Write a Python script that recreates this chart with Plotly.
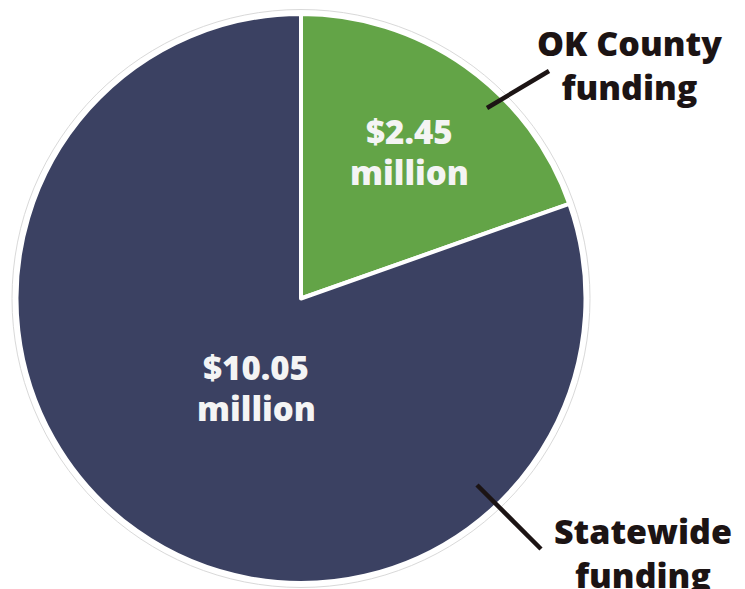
import plotly.graph_objects as go

# Funding split (millions of dollars)
labels = ["OK County funding", "Statewide funding"]
values = [2.45, 10.05]
colors = ["#63a447", "#3b4162"]

W, H = 745, 589
CX, CY, R = 301, 298.5, 284.5  # pie centre / radius in pixels (from top-left)
FONT = "Open Sans"


def px(x):
    return x / W


def py(y):
    return 1 - y / H


fig = go.Figure()
fig.add_trace(go.Pie(
    labels=labels,
    values=values,
    sort=False,
    direction="clockwise",
    rotation=0,
    marker=dict(colors=colors, line=dict(color="white", width=4)),
    textinfo="none",
    hoverinfo="label+value",
    showlegend=False,
    domain=dict(x=[px(CX - R), px(CX + R)], y=[py(CY + R), py(CY - R)]),
))

shapes = []
# faint outer ring around the pie
RR = 289
shapes.append(dict(type="circle", xref="paper", yref="paper",
                   x0=px(CX - RR), x1=px(CX + RR), y0=py(CY + RR), y1=py(CY - RR),
                   line=dict(color="#d9d9d9", width=1), layer="below"))

# leader lines to the outside labels
leaders = [((487, 108), (549, 71)), ((477, 485), (541, 549))]
for (x0, y0), (x1, y1) in leaders:
    shapes.append(dict(type="line", xref="paper", yref="paper",
                       x0=px(x0), y0=py(y0), x1=px(x1), y1=py(y1),
                       line=dict(color="#1c1414", width=4.5)))

annotations = []


def add_lines(lines, x, ys, size, color):
    for txt, y in zip(lines, ys):
        annotations.append(dict(
            x=px(x), y=py(y), xref="paper", yref="paper",
            text=txt, showarrow=False,
            font=dict(family=FONT, size=size, color=color, weight=800),
            xanchor="center", yanchor="middle",
        ))


def add_block(text, x, y, size, color):
    annotations.append(dict(
        x=px(x), y=py(y), xref="paper", yref="paper",
        text=text, showarrow=False, align="center",
        font=dict(family=FONT, size=size, color=color, weight=800),
        xanchor="center", yanchor="middle",
    ))


# value labels inside the slices
inner = [(409, (131, 172)), (256, (367, 408))]
for v, (x, ys) in zip(values, inner):
    add_lines([f"${v:.2f}", "million"], x, ys, 33, "#f4f4f4")

# category labels outside the pie
outer = [(629, 65), (643, 553)]
for lab, (x, y) in zip(labels, outer):
    add_block("<br>".join(lab.rsplit(" ", 1)), x, y, 34, "#1c1414")

fig.update_layout(
    width=W, height=H,
    margin=dict(l=0, r=0, t=0, b=0),
    paper_bgcolor="white", plot_bgcolor="white",
    shapes=shapes, annotations=annotations,
)

fig.write_html("out.html")
